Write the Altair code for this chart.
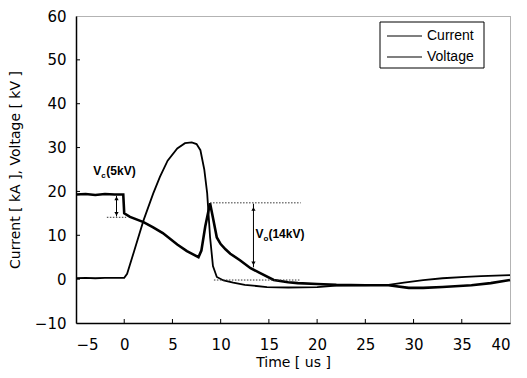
import altair as alt
import pandas as pd

# ---- data ----
t_current = [-5, -4, -3, -2, -1, 0, 0.3, 1, 2, 3, 3.7, 4.5, 5.5, 6.3, 7.0, 7.5, 7.9, 8.3, 8.6, 8.9,
             9.2, 9.6, 10.3, 11.3, 12.5, 14.8, 17, 20, 22, 24, 27.4, 29, 31, 33, 35.4, 37, 40]
current = [0.2, 0.3, 0.2, 0.3, 0.3, 0.3, 1.2, 6.2, 13.4, 19.5, 23.3, 27.0, 29.8, 31.0, 31.2, 30.8, 29.4,
           25.0, 19.6, 9.6, 3.0, 0.5, -0.3, -0.8, -1.3, -1.8, -1.9, -1.8, -1.5, -1.4, -1.3, -0.8,
           -0.2, 0.2, 0.5, 0.7, 0.9]

t_voltage = [-5, -4, -3, -2, -1, -0.1, 0, 0.6, 2, 3, 4, 5.5, 6.5, 7.7, 8.0, 8.4, 8.9, 9.2, 9.6, 10,
             10.5, 11, 12, 13.1, 14, 15.5, 17, 18, 20, 22, 25, 27.4, 29.5, 31, 33, 36, 38, 40]
voltage = [19.3, 19.4, 19.2, 19.4, 19.3, 19.3, 15.0, 14.2, 13.0, 11.8, 10.5, 7.9, 6.4, 5.0, 6.5, 12.0,
           17.3, 14.0, 9.5, 8.0, 6.8, 5.8, 4.3, 2.5, 1.5, -0.2, -0.7, -0.9, -1.1, -1.3, -1.4, -1.4,
           -2.0, -2.0, -1.8, -1.4, -0.9, -0.2]

series_names = ["Current", "Voltage"]
x_ticks = [-5, 0, 5, 10, 15, 20, 25, 30, 35, 40]
y_ticks = [-10, 0, 10, 20, 30, 40, 50, 60]
x_inner_ticks = [0, 5, 10, 15, 20, 25, 30, 35]
y_inner_ticks = [0, 10, 20, 30, 40, 50]

# annotation guides
guide_t1 = [-1.8, 8.9, 9.3]
guide_t2 = [0.2, 18.3, 18.3]
guide_v = [14.1, 17.4, -0.2]
arrow_t = [-0.8, 13.4]
arrow_v1 = [14.3, 2.7]
arrow_v2 = [19.0, 17.2]
head_up_t = [-0.8, 13.4]
head_up_v = [18.4, 16.0]
head_dn_t = [-0.8, 13.4]
head_dn_v = [14.9, 3.6]
label_t = [-3.2, 13.6]
label_v = [23.7, 9.3]
label_main = ["V", "V"]
label_sub = ["c", "o"]
label_rest = ["(5kV)", "(14kV)"]

# legend layout (pixels inside the plot area)
legend_row_y = [20, 41]

df = pd.concat([
    pd.DataFrame({"t": t_current, "val": current, "series": series_names[0]}),
    pd.DataFrame({"t": t_voltage, "val": voltage, "series": series_names[1]}),
])

X = alt.Scale(domain=[-5, 40], nice=False, zero=False)
Y = alt.Scale(domain=[-10, 60], nice=False, zero=False)
FONT = "Liberation Sans"
WIDE = "DejaVu Sans"

base = alt.Chart(df)
x_enc = alt.X("t:Q", scale=X,
              axis=alt.Axis(values=x_ticks, title="Time [ us ]", grid=False, ticks=False,
                            labelPadding=14, labelFont=WIDE, labelFontSize=15,
                            titleFont=WIDE, titleFontSize=14, titleFontWeight="normal",
                            titlePadding=3, domainColor="black", domainWidth=1.5,
                            labelColor="black", titleColor="black"))
y_enc = alt.Y("val:Q", scale=Y,
              axis=alt.Axis(values=y_ticks, title="Current [ kA ], Voltage [ kV ]", grid=False,
                            ticks=False, labelPadding=10, labelFont=WIDE, labelFontSize=15,
                            titleFont=WIDE, titleFontSize=14, titleFontWeight="normal",
                            titlePadding=12, domainColor="black", domainWidth=1.5,
                            labelColor="black", titleColor="black"))

cur_line = base.transform_filter(alt.datum.series == "Current").mark_line(
    strokeWidth=1.8, color="black").encode(x=x_enc, y=y_enc, detail="series:N")
vol_line = base.transform_filter(alt.datum.series == "Voltage").mark_line(
    strokeWidth=2.6, color="black").encode(x="t:Q", y="val:Q", detail="series:N")

guides = alt.Chart(pd.DataFrame({"t1": guide_t1, "t2": guide_t2, "v": guide_v})).mark_rule(
    color="#333", strokeDash=[1.5, 1.5], strokeWidth=1).encode(
    x=alt.X("t1:Q", scale=X), x2="t2:Q", y=alt.Y("v:Q", scale=Y))

arrows = alt.Chart(pd.DataFrame({"t": arrow_t, "v1": arrow_v1, "v2": arrow_v2})).mark_rule(
    color="black", strokeWidth=1).encode(
    x=alt.X("t:Q", scale=X), y=alt.Y("v1:Q", scale=Y), y2="v2:Q")

heads_up = alt.Chart(pd.DataFrame({"t": head_up_t, "v": head_up_v})).mark_point(
    shape="triangle-up", filled=True, color="black", size=18, opacity=1).encode(
    x=alt.X("t:Q", scale=X), y=alt.Y("v:Q", scale=Y))
heads_dn = alt.Chart(pd.DataFrame({"t": head_dn_t, "v": head_dn_v})).mark_point(
    shape="triangle-down", filled=True, color="black", size=18, opacity=1).encode(
    x=alt.X("t:Q", scale=X), y=alt.Y("v:Q", scale=Y))

lab_df = pd.DataFrame({"t": label_t, "v": label_v, "m": label_main, "s": label_sub, "r": label_rest})
lab_base = alt.Chart(lab_df)
lab_main = lab_base.mark_text(align="left", baseline="alphabetic", font=FONT, fontSize=12,
                              fontWeight="bold", color="black").encode(
    x=alt.X("t:Q", scale=X), y=alt.Y("v:Q", scale=Y), text="m:N")
lab_sub = lab_base.mark_text(align="left", baseline="alphabetic", font=FONT, fontSize=8,
                             fontWeight="bold", color="black", dx=8, dy=3).encode(
    x=alt.X("t:Q", scale=X), y=alt.Y("v:Q", scale=Y), text="s:N")
lab_rest = lab_base.mark_text(align="left", baseline="alphabetic", font=FONT, fontSize=12,
                              fontWeight="bold", color="black", dx=13).encode(
    x=alt.X("t:Q", scale=X), y=alt.Y("v:Q", scale=Y), text="r:N")

xt = alt.Chart(pd.DataFrame({"t": x_inner_ticks})).mark_rule(color="black", strokeWidth=1).encode(
    x=alt.X("t:Q", scale=X), y=alt.value(307), y2=alt.value(303))
yt = alt.Chart(pd.DataFrame({"v": y_inner_ticks})).mark_rule(color="black", strokeWidth=1).encode(
    y=alt.Y("v:Q", scale=Y), x=alt.value(0), x2=alt.value(4))

# manual legend
leg_df = pd.DataFrame({"series": series_names, "py": legend_row_y})
leg_box = alt.Chart(pd.DataFrame({"series": ["box"]})).mark_rect(
    fill="white", stroke="black", strokeWidth=1).encode(
    x=alt.value(304), x2=alt.value(408), y=alt.value(6), y2=alt.value(52))
leg_lines = alt.Chart(leg_df).mark_rule(color="black", strokeWidth=1.2).encode(
    x=alt.value(311), x2=alt.value(346), y=alt.Y("py:Q", scale=None))
leg_text = alt.Chart(leg_df).mark_text(align="left", baseline="middle", font=FONT, fontSize=14,
                                       color="black").encode(
    x=alt.value(351), y=alt.Y("py:Q", scale=None), text="series:N")

chart = alt.layer(cur_line, vol_line, guides, arrows, heads_up, heads_dn,
                  lab_main, lab_sub, lab_rest, xt, yt, leg_box, leg_lines, leg_text).properties(
    width=434, height=307,
    autosize=alt.AutoSizeParams(type="none"),
    padding={"left": 68, "top": 8, "right": 9, "bottom": 47},
    background="white",
).configure_view(stroke="#666", strokeDash=[1, 1], strokeWidth=1)

chart.save("out.html", embed_options={"renderer": "svg", "actions": False})
